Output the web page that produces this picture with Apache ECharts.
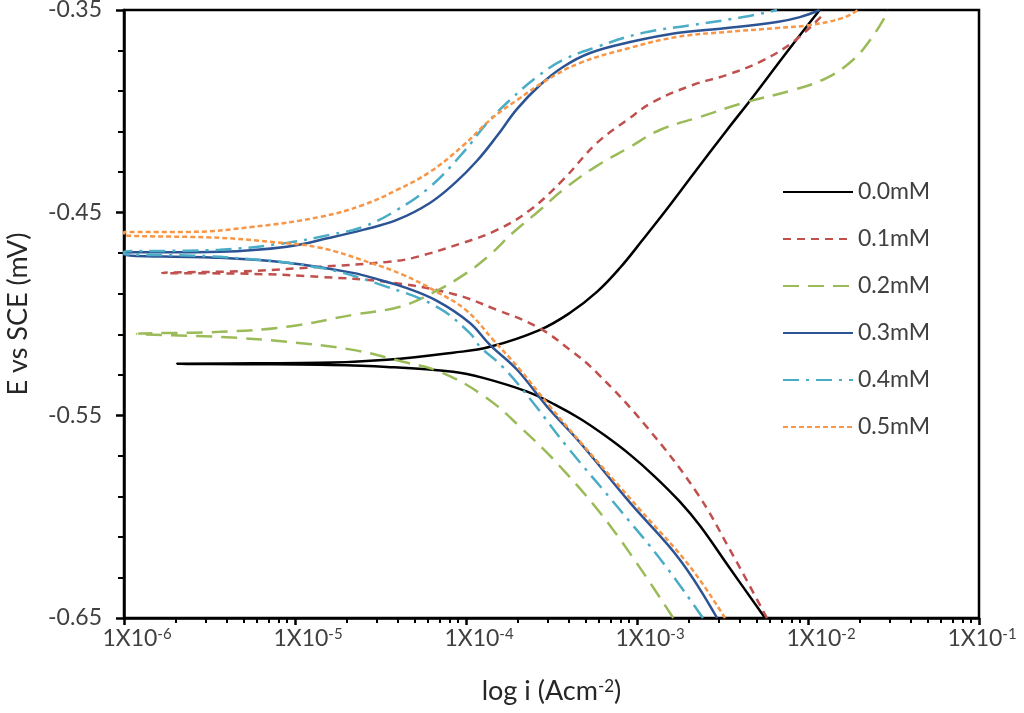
<!DOCTYPE html>
<html><head><meta charset="utf-8">
<script src="https://cdn.jsdelivr.net/npm/echarts@6/dist/echarts.min.js"></script>
<style>html,body{margin:0;padding:0;background:#fff}#c{width:1024px;height:713px}</style>
</head><body><div id="c"></div><script>
// Current density (A cm^-2) and potential (V vs SCE), cathodic branch from bottom, then anodic branch
const I_00 = [5.61e-3,3.50e-3,2.33e-3,1.78e-3,1.27e-3,9.10e-4,6.50e-4,4.65e-4,3.31e-4,2.28e-4,1.26e-4,8.40e-5,3.45e-5,1.40e-5,5.68e-6,2.04e-6,5.68e-6,1.40e-5,3.45e-5,8.40e-5,1.38e-4,2.71e-4,4.06e-4,5.83e-4,7.96e-4,1.08e-3,1.50e-3,2.12e-3,3.36e-3,4.76e-3,7.53e-3,1.17e-2];
const E_00 = [-0.65,-0.6256,-0.6044,-0.5926,-0.5802,-0.5694,-0.56,-0.5517,-0.5447,-0.5383,-0.5315,-0.5285,-0.5261,-0.5251,-0.5248,-0.5246,-0.5243,-0.5241,-0.5226,-0.5191,-0.5162,-0.5078,-0.4994,-0.4891,-0.4772,-0.4634,-0.4481,-0.4313,-0.4092,-0.3929,-0.3707,-0.35];

const I_01 = [5.75e-3,3.50e-3,2.24e-3,1.14e-3,5.83e-4,4.06e-4,2.60e-4,1.52e-4,8.40e-5,3.45e-5,1.40e-5,5.68e-6,1.67e-6,5.68e-6,1.40e-5,3.45e-5,4.90e-5,9.59e-5,1.52e-4,2.37e-4,3.69e-4,5.83e-4,8.75e-4,1.24e-3,2.12e-3,3.36e-3,5.24e-3,8.17e-3,1.22e-2];
const E_01 = [-0.65,-0.6164,-0.5882,-0.5557,-0.529,-0.5177,-0.5063,-0.498,-0.4901,-0.4842,-0.4817,-0.4802,-0.4797,-0.4787,-0.4767,-0.4743,-0.4723,-0.4649,-0.4585,-0.4487,-0.4338,-0.4156,-0.4043,-0.3954,-0.387,-0.382,-0.3756,-0.3658,-0.3525];

const I_02 = [1.63e-3,7.24e-4,3.69e-4,2.07e-4,1.29e-4,7.05e-5,4.29e-5,2.18e-5,8.97e-6,3.64e-6,1.19e-6,3.64e-6,8.97e-6,2.18e-5,4.11e-5,6.41e-5,1.01e-4,1.38e-4,1.88e-4,2.71e-4,3.69e-4,5.83e-4,9.10e-4,1.36e-3,2.33e-3,4.17e-3,8.17e-3,1.29e-2,1.83e-2,2.31e-2,2.82e-2,2.94e-2];
const E_02 = [-0.65,-0.6064,-0.5768,-0.5557,-0.5408,-0.5285,-0.5236,-0.5177,-0.5137,-0.5113,-0.5098,-0.5088,-0.5063,-0.5004,-0.4964,-0.4895,-0.4797,-0.4708,-0.4599,-0.4487,-0.4388,-0.4269,-0.4176,-0.4092,-0.4028,-0.3959,-0.3895,-0.3835,-0.3747,-0.3648,-0.3535,-0.35];

const I_03 = [2.94e-3,1.78e-3,9.10e-4,4.65e-4,2.98e-4,1.99e-4,1.38e-4,1.05e-4,6.76e-5,4.29e-5,3.14e-5,2.18e-5,8.97e-6,3.64e-6,1.00e-6,1.00e-6,3.64e-6,8.97e-6,1.60e-5,2.50e-5,3.94e-5,6.15e-5,8.63e-5,1.16e-4,1.52e-4,1.99e-4,2.71e-4,3.69e-4,5.31e-4,9.10e-4,1.71e-3,3.36e-3,6.59e-3,8.97e-3,1.17e-2];
const E_03 = [-0.65,-0.6212,-0.5931,-0.5635,-0.5457,-0.5275,-0.5152,-0.5043,-0.4935,-0.4866,-0.4832,-0.4797,-0.4747,-0.4723,-0.4708,-0.4698,-0.4693,-0.4668,-0.4624,-0.4585,-0.4536,-0.4452,-0.4353,-0.4244,-0.4121,-0.3988,-0.387,-0.3781,-0.3712,-0.3658,-0.3613,-0.3589,-0.3559,-0.3535,-0.35];

const I_04 = [2.43e-3,1.42e-3,7.96e-4,3.90e-4,2.47e-4,1.64e-4,1.21e-4,1.05e-4,6.76e-5,3.45e-5,1.40e-5,3.64e-6,1.00e-6,1.00e-6,3.64e-6,8.97e-6,1.60e-5,2.50e-5,3.94e-5,6.15e-5,9.59e-5,1.33e-4,1.81e-4,2.60e-4,3.69e-4,5.83e-4,1.08e-3,2.12e-3,4.17e-3,6.59e-3];
const E_04 = [-0.65,-0.6227,-0.5967,-0.5655,-0.5438,-0.5261,-0.5162,-0.5093,-0.4965,-0.4866,-0.4772,-0.4718,-0.4703,-0.4693,-0.4683,-0.4649,-0.4609,-0.457,-0.4487,-0.4373,-0.4205,-0.4057,-0.3944,-0.383,-0.3747,-0.3682,-0.3613,-0.3574,-0.3535,-0.35];

const I_05 = [3.27e-3,2.04e-3,1.04e-3,5.11e-4,3.10e-4,2.07e-4,1.44e-4,1.01e-4,6.76e-5,4.29e-5,2.75e-5,1.40e-5,7.14e-6,3.64e-6,1.00e-6,1.00e-6,2.33e-6,5.68e-6,1.40e-5,2.50e-5,3.94e-5,6.15e-5,9.59e-5,1.38e-4,1.99e-4,2.98e-4,4.65e-4,9.10e-4,1.71e-3,3.36e-3,6.59e-3,1.03e-2,1.60e-2,1.96e-2];
const E_05 = [-0.65,-0.6246,-0.5965,-0.567,-0.5457,-0.5275,-0.5127,-0.4984,-0.4891,-0.4807,-0.4747,-0.4673,-0.4644,-0.4624,-0.4609,-0.4595,-0.4595,-0.457,-0.4521,-0.4462,-0.4388,-0.4299,-0.417,-0.4043,-0.3944,-0.3845,-0.3761,-0.3687,-0.3633,-0.3608,-0.3589,-0.3574,-0.3539,-0.35];

const seriesNames = ['0.0mM','0.1mM','0.2mM','0.3mM','0.4mM','0.5mM'];
const yMajor = [-0.65,-0.55,-0.45,-0.35];
const yMinor = [-0.63,-0.61,-0.59,-0.57,-0.53,-0.51,-0.49,-0.47,-0.43,-0.41,-0.39,-0.37];
const xDecades = [-6,-5,-4,-3,-2];
const xMinorFactors = [2,3,4,5,6,7,8,9];

const xMinorLog = [];
xDecades.forEach(d => xMinorFactors.forEach(f => xMinorLog.push(d + Math.log10(f))));

function pairs(I, E) { return I.map((v, k) => [v, E[k]]); }
const sets = [[I_00,E_00],[I_01,E_01],[I_02,E_02],[I_03,E_03],[I_04,E_04],[I_05,E_05]];
const styles = [
  {color:'#000000', type:'solid'},
  {color:'#C0504D', type:[8,6]},
  {color:'#9BBB59', type:[16,9]},
  {color:'#2C5494', type:'solid'},
  {color:'#4BACC6', type:[16,7,3,7]},
  {color:'#F79646', type:[5,3]}
];

const FONT = 'Lato';
const txt = '#404040';

const chart = echarts.init(document.getElementById('c'));
chart.setOption({
  animation: false,
  backgroundColor: '#fff',
  textStyle: {fontFamily: FONT},
  grid: {left: 124, right: 45, top: 10, bottom: 95, show: true, borderColor: '#000', borderWidth: 2.5, outerBoundsMode: 'none', containLabel: false},
  legend: {
    orient: 'vertical', left: 782, top: 180, padding: 0,
    itemWidth: 70, itemHeight: 24, itemGap: 23,
    itemStyle: {opacity: 0},
    textStyle: {fontFamily: FONT, fontSize: 23, color: txt, lineHeight: 24},
    data: seriesNames
  },
  xAxis: [{
    type: 'log', logBase: 10, min: 1e-6, max: 1e-1,
    position: 'bottom',
    axisLine: {show: true, lineStyle: {color: '#000', width: 2.5}},
    axisTick: {show: true, inside: false, length: 7, lineStyle: {color: '#000', width: 2.5}},
    splitLine: {show: false},
    minorTick: {show: false},
    axisLabel: {
      show: true, margin: 9, showMinLabel: true, showMaxLabel: true,
      formatter: function (v) {
        const e = Math.round(Math.log10(v));
        const g = e === -1 ? 'g2' : 'g';
        return '{' + g + '| }{b|1X10}{s|' + e + '}';
      },
      rich: {
        g: {width: 26, fontSize: 23},
        g2: {width: 6, fontSize: 23},
        b: {fontFamily: FONT, fontSize: 23, color: txt, verticalAlign: 'bottom'},
        s: {fontFamily: FONT, fontSize: 15, color: txt, verticalAlign: 'top'}
      }
    },
    name: 'log i (Acm{s|-2})',
    nameLocation: 'middle', nameGap: 60,
    nameTextStyle: {
      fontFamily: FONT, fontSize: 27, color: '#262626',
      rich: {s: {fontFamily: FONT, fontSize: 17, color: '#262626', verticalAlign: 'top'}}
    }
  }, {
    type: 'value', min: -6, max: -1, position: 'bottom',
    axisLine: {show: false},
    axisLabel: {show: false},
    splitLine: {show: false},
    axisTick: {show: true, inside: false, length: 5, customValues: xMinorLog, lineStyle: {color: '#000', width: 2}}
  }],
  yAxis: [{
    type: 'value', min: -0.65, max: -0.35, position: 'left',
    axisLine: {show: true, onZero: false, lineStyle: {color: '#000', width: 2.5}},
    axisTick: {show: true, inside: false, length: 8, customValues: yMajor, lineStyle: {color: '#000', width: 2.5}},
    splitLine: {show: false},
    axisLabel: {show: true, margin: 22, customValues: yMajor, fontFamily: FONT, fontSize: 23, color: txt,
      formatter: v => v.toFixed(2)},
    name: 'E vs SCE (mV)', nameLocation: 'middle', nameGap: 92,
    nameTextStyle: {fontFamily: FONT, fontSize: 27, color: '#262626'}
  }, {
    type: 'value', min: -0.65, max: -0.35, position: 'left',
    axisLine: {show: false},
    axisLabel: {show: false},
    splitLine: {show: false},
    axisTick: {show: true, inside: false, length: 6, customValues: yMinor, lineStyle: {color: '#000', width: 2}}
  }],
  series: sets.map((s, k) => ({
    name: seriesNames[k], type: 'line', xAxisIndex: 0, yAxisIndex: 0,
    data: pairs(s[0], s[1]),
    symbol: 'none', showSymbol: false,
    smooth: 0.4,
    lineStyle: {color: styles[k].color, type: styles[k].type, width: 2.5},
    itemStyle: {color: styles[k].color},
    emphasis: {disabled: true}
  }))
});
</script></body></html>
